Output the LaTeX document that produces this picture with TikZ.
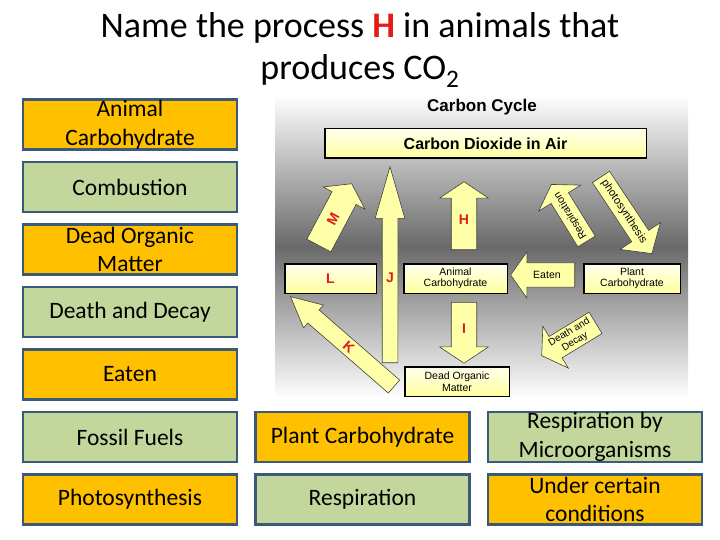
\documentclass[tikz,border=0pt]{standalone}
\usepackage{fontspec}
\setmainfont{Carlito}
\newfontfamily\arialfont{Liberation Sans}
\usetikzlibrary{positioning, shapes.arrows}
\definecolor{boxOrange}{HTML}{FFC000}
\definecolor{boxGreen}{HTML}{C3D69B}
\definecolor{boxEdge}{HTML}{3B5A7A}
\definecolor{cycTop}{HTML}{FFFFEE}
\definecolor{cycBottom}{HTML}{FFFF9E}
\definecolor{arrowYellow}{HTML}{FFFFA8}
\definecolor{cycRed}{HTML}{E41B17}
\definecolor{bgGray}{HTML}{6A6A6A}

\begin{document}
\begin{tikzpicture}[x=1pt, y=-1pt,
  answer/.style={
    rectangle, draw=boxEdge, fill=#1, line width=2.5pt,
    minimum width=214pt, minimum height=50pt, inner sep=0pt,
    align=center, font=\fontsize{23.5}{28.5}\selectfont,
  },
  cbox/.style={
    rectangle, draw=black, line width=1.5pt, top color=cycTop, bottom color=cycBottom,
    minimum height=29.5pt, inner sep=0pt, align=center,
    font=\arialfont\fontsize{10.5}{11.5}\selectfont,
  },
  fatarrow/.style n args={4}{
    single arrow, draw=black!75, fill=arrowYellow, line width=0.6pt,
    inner sep=0pt, anchor=tail, align=center,
    minimum height=#1, minimum width=#2,
    single arrow head extend=#3, single arrow tip angle=#4,
  },
  letter/.style={text=cycRed, font=\arialfont\bfseries\fontsize{14}{16}\selectfont},
  small/.style={font=\arialfont\fontsize{10.5}{11.5}\selectfont},
]
\useasboundingbox (0,0) rectangle (720,540);

% Question
\node[align=center, font=\fontsize{36}{42}\selectfont] (question) at (360,50)
  {Name the process \textcolor{cycRed}{\textbf{H}} in animals that\\produces CO\textsubscript{2}};

% Carbon cycle picture
\shade[top color=white, bottom color=white, middle color=bgGray] (275,95) rectangle (688,398);
\node[font=\arialfont\bfseries\fontsize{17}{20}\selectfont] (cycTitle) at (482,107) {Carbon Cycle};
\node[cbox, minimum width=321.5pt, font=\arialfont\bfseries\fontsize{16}{18}\selectfont] (air) at (485.5,143.5) {Carbon Dioxide in Air};
\node[cbox, minimum width=91.5pt, letter] (boxL) at (330.5,278.5) {L};
\node[cbox, minimum width=103.5pt] (animalBox) at (455.5,278.5) {Animal\\Carbohydrate};
\node[cbox, minimum width=96.5pt] (plantBox) at (632,278.5) {Plant\\Carbohydrate};
\node[cbox, minimum width=104.5pt] (deadBox) at (457,381.5) {Dead Organic\\Matter};

\node[fatarrow={70pt}{47pt}{10pt}{111}, rotate=62, inner ysep=8.5pt, letter] (arrM) at (318.7,245.8) {M};
\node[fatarrow={196pt}{29pt}{7pt}{32}, shape border rotate=90, inner xsep=7.5pt] (arrJ) at (390,363) {};
\node[letter] (labJ) at (390,278) {J};
\node[fatarrow={68pt}{48pt}{11.5pt}{112}, shape border rotate=90, inner xsep=7.4pt, letter] (arrH) at (464,250) {H};
\node[fatarrow={61pt}{48pt}{11.5pt}{112}, shape border rotate=270, inner xsep=10.5pt, letter] (arrI) at (464,302) {I};
\node[fatarrow={64pt}{46pt}{11pt}{110}, shape border rotate=180, inner ysep=8.2pt, small] (arrEaten) at (575,275) {Eaten};
\node[fatarrow={137pt}{30pt}{6.5pt}{53}, rotate=-41, shape border rotate=180, inner ysep=3.5pt, letter] (arrK) at (394.2,386.7) {K};
\node[fatarrow={67pt}{49pt}{14.5pt}{114}, rotate=121.7, inner ysep=5pt, small] (arrResp) at (586.7,241.7) {Respiration};
\node[fatarrow={92pt}{48pt}{14pt}{98}, rotate=-56.4, inner ysep=4.8pt, font=\arialfont\fontsize{11}{12}\selectfont] (arrPhoto) at (600.8,176.7) {photosynthesis};
\node[fatarrow={63pt}{49pt}{12pt}{113}, rotate=31.3, shape border rotate=180, inner ysep=2pt, font=\arialfont\fontsize{10}{11}\selectfont] (arrDecay) at (595.8,322.7) {Death and\\Decay};

% Answer cards
\node[answer=boxOrange] (animalCarb) at (130,124.5) {Animal\\Carbohydrate};
\node[answer=boxGreen, below=10pt of animalCarb] (combustion) {Combustion};
\node[answer=boxOrange, below=10pt of combustion] (deadMatter) {Dead Organic\\Matter};
\node[answer=boxGreen, below=10pt of deadMatter] (deathDecay) {Death and Decay};
\node[answer=boxOrange, below=10pt of deathDecay] (eaten) {Eaten};
\node[answer=boxGreen, below=10pt of eaten] (fossil) {Fossil Fuels};
\node[answer=boxOrange, below=10pt of fossil] (photo) {Photosynthesis};
\node[answer=boxOrange, right=16pt of fossil] (plantCarb) {Plant Carbohydrate};
\node[answer=boxGreen, right=16pt of photo] (respir) {Respiration};
\node[answer=boxGreen, right=16pt of plantCarb] (microbes) {Respiration by\\Microorganisms};
\node[answer=boxOrange, right=16pt of respir] (conditions) {Under certain\\conditions};

\end{tikzpicture}
\end{document}
